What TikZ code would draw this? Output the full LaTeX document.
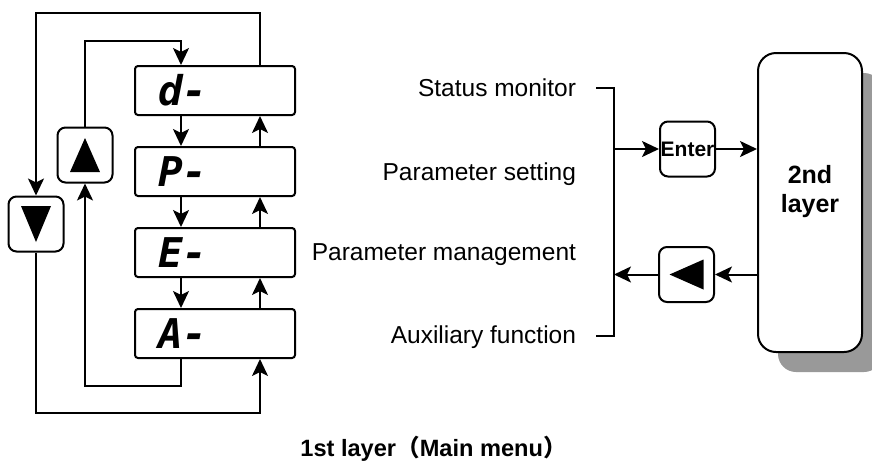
\documentclass[tikz,border=0pt]{standalone}
\usepackage{fontspec}
\setmainfont{Liberation Sans}
\newfontfamily\segfont{DejaVu Sans Mono}
\newfontfamily\cjk{Noto Sans CJK SC}
\usepackage{tikz}
\usetikzlibrary{arrows.meta, positioning, shadows}
\tikzset{
    arr/.style={-{Stealth[length=8.5pt,width=8pt,inset=2pt]}},
    disp/.style={draw, rectangle, rounded corners=1.5pt, minimum width=80pt, minimum height=24.5pt, text width=57pt, inner xsep=11.5pt, align=left, font=\segfont\bfseries\itshape\fontsize{20.5}{20.5}\selectfont},
    key/.style={draw, rectangle, rounded corners=4pt, minimum width=27.5pt, minimum height=27.5pt, inner sep=0pt, font=\bfseries\fontsize{10.5}{12}\selectfont},
    menu/.style={anchor=base east, inner sep=0pt, font=\fontsize{12.25}{14}\selectfont}
}

\begin{document}
\begin{tikzpicture}[x=0.5pt, y=-0.5pt, line width=1pt, node distance=40.5pt]
    \useasboundingbox (0,0) rectangle (872,462);
    % display panel
    \node (d) [disp] at (215,90.5) {d-};
    \node (p) [disp, below of=d] {P-};
    \node (e) [disp, below of=p] {E-};
    \node (a) [disp, below of=e] {A-};
    \coordinate (dn) at (181,0);
    \coordinate (upc) at (260,0);
    \foreach \s/\t in {d/p, p/e, e/a} {
        \draw [arr] (\s.south -| dn) -- (\t.north -| dn);
        \draw [arr] (\t.north -| upc) -- (\s.south -| upc);
    }
    % up / down keys
    \node (up) [key] at (85,155) {};
    \node (down) [key] at (36,224) {};
    \fill ([shift={(-15,17)}]up.center) -- ++(30,0) -- ++(-15,-34) -- cycle;
    \fill ([shift={(-15,-18)}]down.center) -- ++(30,0) -- ++(-15,36) -- cycle;
    \coordinate (o1) at (36,13);
    \coordinate (o2) at (36,413);
    \coordinate (i1) at (85,41);
    \coordinate (i2) at (85,386);
    \draw [arr] (d.north -| upc) |- (o1) -- (down);
    \draw [arr] (down) -- (o2) -| (a.south -| upc);
    \draw [arr] (up) -- (i1) -| (d.north -| dn);
    \draw [arr] (a.south -| dn) |- (i2) -- (up);
    % menu items
    \node (mon) [menu] at (577,96) {Status monitor};
    \node (set) [menu] at (577,180) {Parameter setting};
    \node (mgt) [menu] at (577,260) {Parameter management};
    \node (aux) [menu] at (577,343) {Auxiliary function};
    \coordinate (t1) at (596,88);
    \coordinate (t2) at (596,336);
    \coordinate (bt) at (614,88);
    \coordinate (bb) at (614,336);
    \draw (t1) -- (bt) -- (bb) -- (t2);
    % second layer
    \node (two) [draw, rounded corners=9pt, minimum width=52pt, minimum height=149.5pt, align=center, fill=white,
        font=\bfseries\fontsize{12.5}{14.5}\selectfont, text depth=13.5pt,
        drop shadow={shadow xshift=10pt, shadow yshift=-10pt, fill=black!40, opacity=1}] at (810,202.5) {2nd\\layer};
    \node (enter) [key] at (687.5,149) {Enter};
    \node (back) [key] at (686.5,274.5) {};
    \fill ([shift={(17,-15)}]back.center) -- ++(0,30) -- ++(-34,-15) -- cycle;
    \draw [arr] (enter -| bt) -- (enter);
    \draw [arr] (enter) -- (enter -| two.west);
    \draw [arr] (back -| two.west) -- (back);
    \draw [arr] (back) -- (back -| bt);
    \node (cap) [anchor=base, font=\bfseries\fontsize{11.8}{14}\selectfont] at (433.5,456) {1st layer{\cjk （}Main menu{\cjk ）}};
\end{tikzpicture}
\end{document}
